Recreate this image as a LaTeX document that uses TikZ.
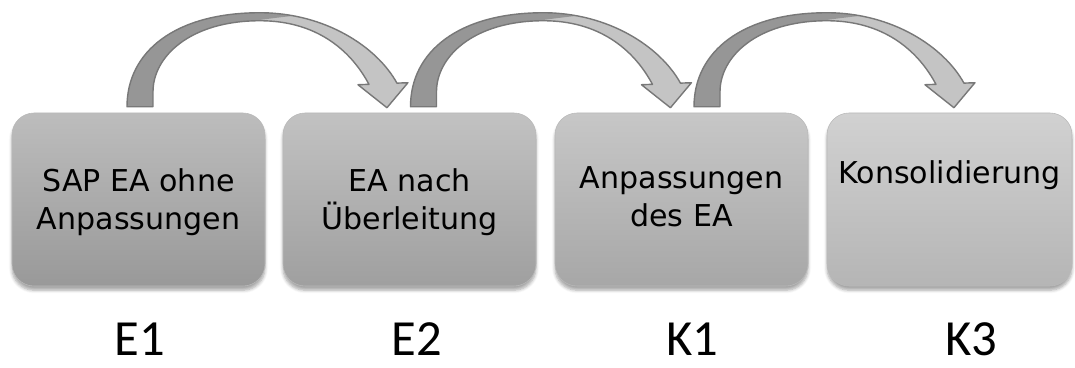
\documentclass[tikz,border=0pt]{standalone}
\usepackage{fontspec}
\setmainfont{DejaVu Sans}
\newfontfamily\labelfont{Carlito}
\usetikzlibrary{positioning,shadows.blur}
\definecolor{arrowdark}{RGB}{150,150,150}
\definecolor{arrowlight}{RGB}{196,196,196}
\definecolor{arrowline}{RGB}{120,120,120}
\definecolor{boxline}{RGB}{185,185,185}

% outline of one curved block arrow (units: pixels of the original)
\def\pfeilpfad{(-13,0) .. controls (-13,55) and (35,94) .. (120,94)
  .. controls (185,94) and (237,60) .. (257,23.6) -- (268,24) -- (247,-1)
  -- (218,22) -- (229,22.4) .. controls (210,58) and (175,86) .. (120,86)
  .. controls (50,86) and (13,50) .. (13,15) -- (13,0) -- cycle}

\newcommand{\bogenpfeil}[1]{%
  \begin{scope}[shift={(#1)}, x=0.025cm, y=0.025cm]
    \fill[arrowlight] \pfeilpfad;
    \begin{scope}
      \clip \pfeilpfad;
      \fill[arrowdark] (-20,-5) -- (-20,110) -- (175,110) -- (175,93)
        .. controls (130,89) and (90,83) .. (66,77) -- (40,-5) -- cycle;
    \end{scope}
    \draw[arrowline, line width=1pt, line join=round] \pfeilpfad;
  \end{scope}}

\begin{document}
\begin{tikzpicture}[
    box/.style 2 args={rectangle, rounded corners=0.55cm, draw=boxline,
                 top color=#1, bottom color=#2, minimum width=6.325cm,
                 minimum height=4.325cm, inner sep=0pt,
                 blur shadow={shadow xshift=0pt, shadow yshift=-3pt,
                              shadow blur steps=6, shadow opacity=35}},
    boxtext/.style={align=center, inner sep=0pt,
                 font=\fontsize{21.4}{26.9}\selectfont},
    lab/.style={anchor=base, font=\labelfont\fontsize{36}{40}\selectfont}
]
    \useasboundingbox (0,0) rectangle (26.875,9.175);

    % Boxes
    \node[box={gray!52}{gray!80}] (e1) at (3.4625,4.1875) {};
    \node[box={gray!48}{gray!75}] (e2) at (10.2375,4.1875) {};
    \node[box={gray!44}{gray!69}] (k1) at (17.0375,4.1875) {};
    \node[box={gray!36}{gray!58}, minimum width=6.125cm] (k3) at (23.7375,4.1875) {};

    % Texts
    \node[boxtext, below=1.4cm of e1.north] (t1) {SAP EA ohne\\Anpassungen};
    \node[boxtext, below=1.4cm of e2.north] (t2) {EA nach\\Überleitung};
    \node[boxtext, below=1.35cm of k1.north] (t3) {Anpassungen\\des EA};
    \node[boxtext, below=1.2cm of k3.north] (t4) {Konsolidierung};

    % Arrows
    \bogenpfeil{$(e1.north)+(0.0375,0.15)$}
    \bogenpfeil{$(e2.north)+(0.35,0.15)$}
    \bogenpfeil{$(k1.north)+(0.6375,0.15)$}

    % Labels
    \node[lab] (l1) at (3.5,0.3) {E1};
    \node[lab] (l2) at (10.425,0.3) {E2};
    \node[lab] (l3) at (17.3,0.3) {K1};
    \node[lab] (l4) at (24.275,0.3) {K3};
\end{tikzpicture}
\end{document}
